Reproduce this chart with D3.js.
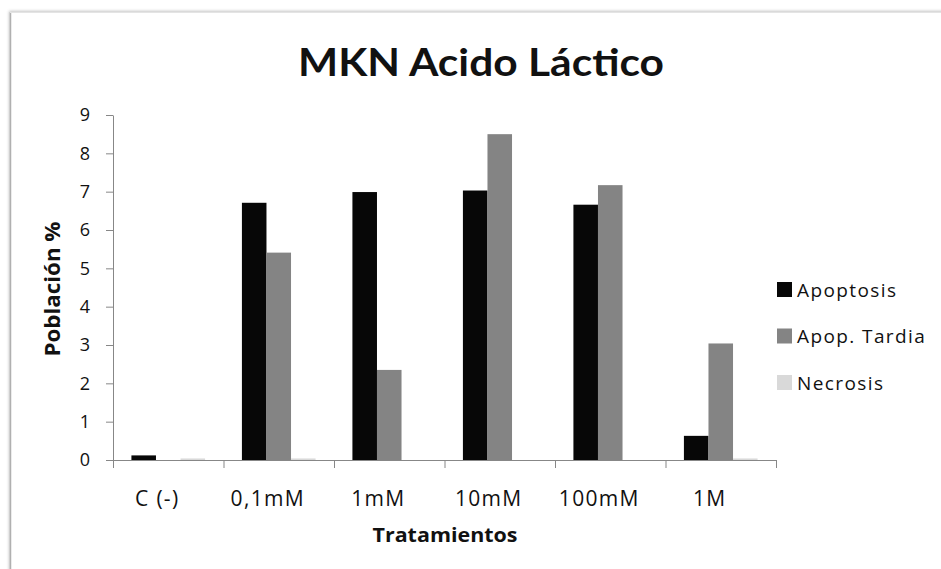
<!DOCTYPE html>
<html>
<head>
<meta charset="utf-8">
<script src="https://cdn.jsdelivr.net/npm/d3@7"></script>
<style>
  html, body { margin: 0; padding: 0; background: #fff; }
  svg { display: block; }
  text { font-family: "Open Sans", Lato, sans-serif; fill: #111; }
</style>
</head>
<body>
<svg id="chart" width="941" height="569"></svg>
<script>
// Treatments and the three cell-population series (percent)
const categories = ["C (-)", "0,1mM", "1mM", "10mM", "100mM", "1M"];
const apoptosis   = [0.12, 6.71, 6.99, 7.03, 6.66, 0.63];
const apopTardia  = [0.00, 5.41, 2.35, 8.50, 7.17, 3.04];
const necrosis    = [0.04, 0.04, 0.00, 0.00, 0.00, 0.04];
const seriesNames = ["Apoptosis", "Apop. Tardia", "Necrosis"];
const seriesColors = ["#070707", "#848484", "#d9d9d9"];
const yTicks = [0, 1, 2, 3, 4, 5, 6, 7, 8, 9];

const seriesValues = [apoptosis, apopTardia, necrosis];
const bodyFont = "'Open Sans', Lato, sans-serif";

const svg = d3.select("#chart");

// Chart frame with soft edge shadow
const defs = svg.append("defs");
defs.append("filter").attr("id", "soft")
  .attr("x", "-5%").attr("y", "-5%").attr("width", "110%").attr("height", "110%")
  .append("feGaussianBlur").attr("stdDeviation", 1.4);
svg.append("rect").attr("x", 9).attr("y", 11).attr("width", 1000).attr("height", 700)
  .attr("fill", "#c4c4c4").attr("filter", "url(#soft)");
svg.append("rect").attr("x", 11).attr("y", 13).attr("width", 1000).attr("height", 700)
  .attr("fill", "#fff");
svg.append("line").attr("x1", 10.5).attr("x2", 10.5).attr("y1", 12).attr("y2", 569)
  .attr("stroke", "#b0b0b0").attr("stroke-width", 1.5);
svg.append("line").attr("x1", 10).attr("x2", 941).attr("y1", 12.5).attr("y2", 12.5)
  .attr("stroke", "#e4e4e4").attr("stroke-width", 1);

// Scales
const x = d3.scaleBand().domain(categories).range([113, 776]).paddingInner(0).paddingOuter(0);
const y = d3.scaleLinear().domain([0, 9]).range([460, 115]);
const barW = x.bandwidth() / 4.5;
const xs = d3.scaleBand().domain(d3.range(seriesNames.length))
  .range([0.75 * barW, 0.75 * barW + 3 * barW]).padding(0);

// Bars
const groups = svg.append("g").selectAll("g")
  .data(seriesValues).join("g")
  .attr("fill", (d, i) => seriesColors[i]);
groups.each(function (vals, si) {
  d3.select(this).selectAll("rect")
    .data(vals.map((v, ci) => ({ v, c: categories[ci] })))
    .join("rect")
    .attr("x", d => x(d.c) + xs(si))
    .attr("width", xs.bandwidth())
    .attr("y", d => y(d.v))
    .attr("height", d => y(0) - y(d.v));
});

const axisColor = "#878787";

// Y axis
const yAxis = svg.append("g").attr("transform", "translate(113,0)")
  .call(d3.axisLeft(y).tickValues(yTicks).tickSize(7).tickSizeOuter(0).tickPadding(16));
yAxis.select(".domain").attr("stroke", axisColor);
yAxis.selectAll(".tick line").attr("stroke", axisColor);
yAxis.selectAll(".tick text").attr("font-size", 18).attr("fill", "#1a1a1a")
  .style("font-family", bodyFont);

// X axis: category labels plus boundary ticks
const xAxis = svg.append("g").attr("transform", "translate(0,460)")
  .call(d3.axisBottom(x).tickSize(0).tickPadding(31).tickSizeOuter(0));
xAxis.select(".domain").attr("stroke", axisColor);
xAxis.selectAll(".tick text").attr("font-size", 21).attr("fill", "#1a1a1a")
  .attr("dx", -11).attr("letter-spacing", 1.3)
  .style("font-family", bodyFont);
const bounds = categories.map(c => x(c)).concat([x.range()[1]]);
xAxis.selectAll(".bound").data(bounds).join("line")
  .attr("class", "bound")
  .attr("x1", d => d + 0.5).attr("x2", d => d + 0.5)
  .attr("y1", 0).attr("y2", 8)
  .attr("stroke", axisColor);

// Titles
svg.append("text").attr("x", 481).attr("y", 76).attr("text-anchor", "middle")
  .attr("font-size", 38).attr("font-weight", "bold")
  .attr("textLength", 366).attr("lengthAdjust", "spacingAndGlyphs")
  .style("font-family", "Lato, 'Open Sans', sans-serif")
  .text("MKN Acido Láctico");
svg.append("text").attr("x", 445).attr("y", 542).attr("text-anchor", "middle")
  .attr("font-size", 20).attr("font-weight", "bold")
  .attr("textLength", 145).attr("lengthAdjust", "spacingAndGlyphs")
  .text("Tratamientos");
svg.append("text").attr("transform", "translate(60,289) rotate(-90)")
  .attr("text-anchor", "middle")
  .attr("font-size", 21).attr("font-weight", "bold")
  .attr("textLength", 135).attr("lengthAdjust", "spacingAndGlyphs")
  .text("Población %");

// Legend
const legend = svg.append("g").attr("transform", "translate(777,282)");
const items = legend.selectAll("g").data(seriesNames).join("g")
  .attr("transform", (d, i) => `translate(0,${i * 46.5})`);
items.append("rect").attr("width", 15).attr("height", 15)
  .attr("fill", (d, i) => seriesColors[i]);
items.append("text").attr("x", 20).attr("y", 14.5).attr("font-size", 19)
  .attr("letter-spacing", 1.4)
  .text(d => d);
</script>
</body>
</html>
